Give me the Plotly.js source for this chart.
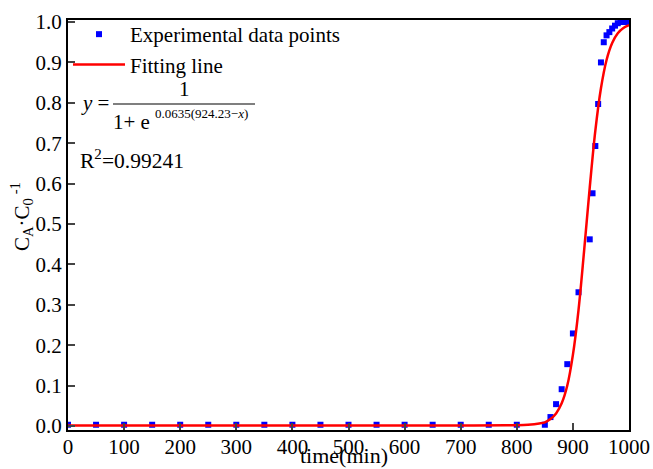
<!DOCTYPE html>
<html><head><meta charset="utf-8">
<script src="https://cdn.plot.ly/plotly-3.0.1.min.js"></script>
<style>body{margin:0;background:#fff}#c{width:653px;height:469px}</style>
</head><body><div id="c"></div>
<script>
const expX = [0,50,100,150,200,250,300,350,400,450,500,550,600,650,700,750,800,850,860,870,880,890,900,910,930,935,940,945,950,955,960,965,970,975,980,985,990,995,1000];
const expY = [0.003,0.003,0.003,0.003,0.003,0.003,0.003,0.003,0.003,0.003,0.003,0.003,0.003,0.003,0.003,0.003,0.003,0.003,0.022,0.054,0.091,0.153,0.229,0.331,0.462,0.576,0.693,0.797,0.900,0.950,0.967,0.975,0.984,0.991,0.997,1.0,1.0,1.0,1.0];
const fitX = [0,100,200,300,400,500,600,700,780,800,820,840,850,860,870,880,890,900,910,920,930,940,950,960,970,980,990,1000];
const fitY = [0.001,0.001,0.001,0.001,0.001,0.001,0.001,0.001,0.002,0.002,0.003,0.006,0.009,0.017,0.031,0.056,0.10,0.176,0.287,0.434,0.590,0.731,0.836,0.906,0.948,0.972,0.985,0.992];
const xTicks = [0,100,200,300,400,500,600,700,800,900,1000];
const yTicks = [0,0.1,0.2,0.3,0.4,0.5,0.6,0.7,0.8,0.9,1.0];

const serif = '"Times New Roman", "Liberation Serif", "DejaVu Serif", serif';
const traces = [
  {x: expX, y: expY, mode: 'markers', type: 'scatter', name: 'Experimental data points',
   marker: {symbol: 'square', size: 6, color: '#0000ff'}},
  {x: fitX, y: fitY, mode: 'lines', type: 'scatter', name: 'Fitting line',
   line: {color: '#ff0000', width: 2.5, shape: 'spline', smoothing: 1}}
];
const layout = {
  width: 653, height: 469,
  margin: {l: 68, r: 24, t: 20, b: 39},
  paper_bgcolor: '#fff', plot_bgcolor: '#fff',
  font: {family: serif, size: 19, color: '#000'},
  showlegend: true,
  legend: {x: 0.0, y: 1.0 + 6/410, xanchor: 'left', yanchor: 'top', bgcolor: 'rgba(0,0,0,0)',
    font: {family: serif, size: 21, color: '#000'}, itemwidth: 52, tracegroupgap: 0},
  xaxis: {range: [0, 1000], tickvals: xTicks, ticks: 'inside', ticklen: 7, tickwidth: 2,
    showline: true, linewidth: 2, linecolor: '#000', mirror: true, showgrid: false, zeroline: false,
    tickfont: {family: serif, size: 21}, ticklabelstandoff: -3},
  yaxis: {range: [-0.01, 1.005], tickvals: yTicks, tickformat: '.1f', ticks: 'inside', ticklen: 7, tickwidth: 2,
    showline: true, linewidth: 2, linecolor: '#000', mirror: true, showgrid: false, zeroline: false,
    tickfont: {family: serif, size: 21}, ticklabelstandoff: 0},
  shapes: [
    {type: 'line', xref: 'paper', yref: 'paper', x0: (113-68)/561, x1: (255-68)/561,
     y0: (430-104)/410, y1: (430-104)/410, line: {color: '#000', width: 1.2}}
  ],
  annotations: [
    {xref: 'paper', yref: 'paper', x: (344-68)/561, y: (430-469)/410, xanchor: 'center', yanchor: 'bottom',
     text: 'time(min)', showarrow: false, font: {family: serif, size: 22}, borderpad: 0},
    {xref: 'paper', yref: 'paper', x: (21-68)/561, y: (430-216)/410, xanchor: 'center', yanchor: 'middle',
     textangle: -90, text: 'C<sub>A</sub>·C<sub>0</sub><sup> -1</sup>', showarrow: false,
     font: {family: serif, size: 21}, borderpad: 0},
    {xref: 'paper', yref: 'paper', x: (79-68)/561, y: (430-103)/410, xanchor: 'left', yanchor: 'middle',
     text: '<i>y</i> =', showarrow: false, font: {family: serif, size: 21}},
    {xref: 'paper', yref: 'paper', x: (184-68)/561, y: (430-89)/410, xanchor: 'center', yanchor: 'middle',
     text: '1', showarrow: false, font: {family: serif, size: 21}},
    {xref: 'paper', yref: 'paper', x: (111-68)/561, y: (430-122)/410, xanchor: 'left', yanchor: 'middle',
     text: '1+ e', showarrow: false, font: {family: serif, size: 21}},
    {xref: 'paper', yref: 'paper', x: (153-68)/561, y: (430-114)/410, xanchor: 'left', yanchor: 'middle',
     text: '0.0635(924.23−<i>x</i>)', showarrow: false, font: {family: serif, size: 13}},
    {xref: 'paper', yref: 'paper', x: (78-68)/561, y: (430-159)/410, xanchor: 'left', yanchor: 'middle',
     text: 'R<sup>2</sup>=0.99241', showarrow: false, font: {family: serif, size: 21.5}}
  ]
};
Plotly.newPlot('c', traces, layout, {displayModeBar: false, staticPlot: true});
</script></body></html>
